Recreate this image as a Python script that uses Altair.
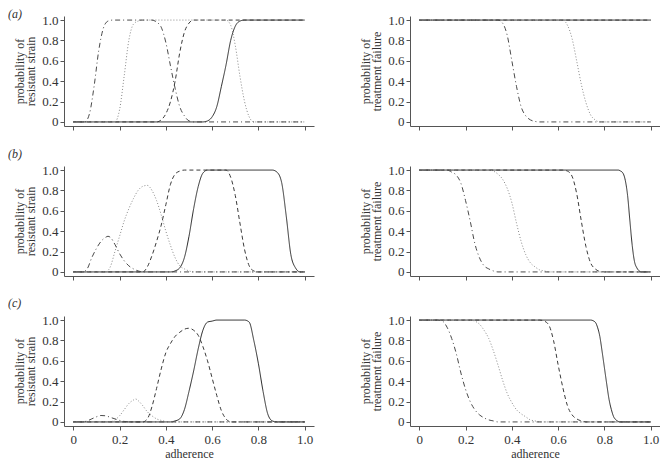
import altair as alt
import pandas as pd

SERIES = ["solid", "dashed", "dotted", "dotdash"]
DASHES = [[1, 0], [4, 3], [1, 2], [1, 3, 5, 3]]
COLORS = ["#2b2b2b", "#3a3a3a", "#8a8a8a", "#4a4a4a"]
TICKS = [0, 0.2, 0.4, 0.6, 0.8, 1.0]
PANEL_LABELS = ["(a)", "(b)", "(c)"]
Y_TITLE_LEFT = ["probability of", "resistant strain"]
Y_TITLE_RIGHT = ["probability of", "treatment failure"]
X_TITLE = "adherence"
FONT = "Liberation Serif"

# ---------- (a) resistant strain ----------
a_res_solid_x = [0, 0.56, 0.58, 0.60, 0.62, 0.64, 0.66, 0.68, 0.70, 0.72, 0.74, 1.0]
a_res_solid_y = [0, 0, 0.01, 0.05, 0.15, 0.35, 0.56, 0.8, 0.94, 0.99, 1.0, 1.0]
a_res_dashed_x = [0, 0.36, 0.38, 0.40, 0.42, 0.44, 0.46, 0.48, 0.50, 0.52, 1.0]
a_res_dashed_y = [0, 0, 0.02, 0.08, 0.2, 0.4, 0.68, 0.88, 0.97, 1.0, 1.0]
a_res_dotted_x = [0, 0.18, 0.20, 0.22, 0.24, 0.26, 0.28, 0.30, 0.66, 0.68, 0.70, 0.72, 0.74, 0.76, 0.78, 1.0]
a_res_dotted_y = [0, 0, 0.12, 0.45, 0.8, 0.96, 0.99, 1.0, 1.0, 0.95, 0.75, 0.45, 0.2, 0.05, 0, 0]
a_res_dotdash_x = [0, 0.05, 0.07, 0.09, 0.11, 0.13, 0.15, 0.17, 0.34, 0.36, 0.38, 0.40, 0.42, 0.44, 0.46, 0.48, 0.50, 0.52, 1.0]
a_res_dotdash_y = [0, 0, 0.08, 0.35, 0.7, 0.92, 0.99, 1.0, 1.0, 0.98, 0.93, 0.78, 0.55, 0.33, 0.15, 0.06, 0.01, 0, 0]

# ---------- (a) treatment failure ----------
a_fail_solid_x = [0, 1.0]
a_fail_solid_y = [1.0, 1.0]
a_fail_dashed_x = [0, 1.0]
a_fail_dashed_y = [1.0, 1.0]
a_fail_dotted_x = [0, 0.62, 0.64, 0.66, 0.68, 0.70, 0.72, 0.74, 0.76, 0.78, 1.0]
a_fail_dotted_y = [1.0, 1.0, 0.95, 0.82, 0.6, 0.37, 0.19, 0.07, 0.02, 0, 0]
a_fail_dotdash_x = [0, 0.34, 0.36, 0.38, 0.40, 0.42, 0.44, 0.46, 0.48, 0.50, 0.52, 1.0]
a_fail_dotdash_y = [1.0, 1.0, 0.97, 0.85, 0.6, 0.35, 0.15, 0.06, 0.02, 0.005, 0, 0]

# ---------- (b) resistant strain ----------
b_res_solid_x = [0, 0.42, 0.44, 0.46, 0.48, 0.50, 0.52, 0.54, 0.56, 0.58, 0.86, 0.88, 0.90, 0.92, 0.94, 0.96, 0.98, 1.0]
b_res_solid_y = [0, 0, 0.01, 0.04, 0.14, 0.35, 0.62, 0.84, 0.97, 1.0, 1.0, 0.98, 0.88, 0.55, 0.17, 0.04, 0, 0]
b_res_dashed_x = [0, 0.30, 0.32, 0.34, 0.36, 0.38, 0.40, 0.42, 0.44, 0.46, 0.48, 0.66, 0.68, 0.70, 0.72, 0.74, 0.76, 0.78, 0.80, 1.0]
b_res_dashed_y = [0, 0, 0.05, 0.16, 0.3, 0.46, 0.66, 0.86, 0.96, 0.99, 1.0, 1.0, 0.93, 0.75, 0.48, 0.22, 0.06, 0.01, 0, 0]
b_res_dotted_x = [0, 0.14, 0.16, 0.18, 0.20, 0.22, 0.24, 0.26, 0.28, 0.30, 0.32, 0.34, 0.36, 0.38, 0.40, 0.42, 0.44, 0.46, 0.48, 0.50, 0.52, 1.0]
b_res_dotted_y = [0, 0, 0.05, 0.2, 0.35, 0.5, 0.62, 0.72, 0.8, 0.84, 0.85, 0.8, 0.7, 0.56, 0.4, 0.26, 0.14, 0.06, 0.03, 0.01, 0, 0]
b_res_dotdash_x = [0, 0.04, 0.06, 0.08, 0.10, 0.12, 0.14, 0.15, 0.16, 0.18, 0.20, 0.22, 0.24, 0.26, 0.28, 0.30, 1.0]
b_res_dotdash_y = [0, 0, 0.03, 0.14, 0.23, 0.3, 0.34, 0.35, 0.34, 0.27, 0.18, 0.11, 0.06, 0.03, 0.01, 0, 0]

# ---------- (b) treatment failure ----------
b_fail_solid_x = [0, 0.86, 0.87, 0.88, 0.89, 0.90, 0.91, 0.92, 0.93, 0.94, 0.95, 0.96, 1.0]
b_fail_solid_y = [1.0, 1.0, 0.99, 0.97, 0.9, 0.75, 0.5, 0.26, 0.1, 0.04, 0.01, 0, 0]
b_fail_dashed_x = [0, 0.62, 0.64, 0.66, 0.68, 0.70, 0.72, 0.74, 0.76, 0.78, 0.80, 1.0]
b_fail_dashed_y = [1.0, 1.0, 0.99, 0.94, 0.77, 0.5, 0.25, 0.09, 0.03, 0.005, 0, 0]
b_fail_dotted_x = [0, 0.30, 0.32, 0.34, 0.36, 0.38, 0.40, 0.42, 0.44, 0.46, 0.48, 0.50, 0.52, 0.54, 0.56, 1.0]
b_fail_dotted_y = [1.0, 1.0, 0.99, 0.96, 0.91, 0.82, 0.68, 0.48, 0.3, 0.17, 0.09, 0.05, 0.02, 0.01, 0, 0]
b_fail_dotdash_x = [0, 0.12, 0.14, 0.16, 0.18, 0.20, 0.22, 0.24, 0.26, 0.28, 0.30, 0.32, 0.34, 1.0]
b_fail_dotdash_y = [1.0, 1.0, 0.98, 0.95, 0.87, 0.7, 0.5, 0.28, 0.14, 0.06, 0.03, 0.01, 0, 0]

# ---------- (c) resistant strain ----------
c_res_solid_x = [0, 0.42, 0.44, 0.46, 0.48, 0.50, 0.52, 0.54, 0.56, 0.58, 0.60, 0.62, 0.74, 0.76, 0.78, 0.80, 0.82, 0.84, 0.86, 0.88, 1.0]
c_res_solid_y = [0, 0, 0.01, 0.03, 0.12, 0.3, 0.5, 0.72, 0.9, 0.98, 0.99, 1.0, 1.0, 0.98, 0.8, 0.57, 0.3, 0.08, 0.01, 0, 0]
c_res_dashed_x = [0, 0.30, 0.32, 0.34, 0.36, 0.38, 0.40, 0.42, 0.44, 0.46, 0.48, 0.50, 0.52, 0.54, 0.56, 0.58, 0.60, 0.62, 0.64, 0.66, 0.68, 1.0]
c_res_dashed_y = [0, 0, 0.03, 0.15, 0.33, 0.52, 0.68, 0.77, 0.84, 0.88, 0.91, 0.92, 0.9, 0.85, 0.74, 0.6, 0.43, 0.26, 0.11, 0.03, 0, 0]
c_res_dotted_x = [0, 0.16, 0.18, 0.20, 0.22, 0.24, 0.26, 0.27, 0.28, 0.30, 0.32, 0.34, 0.36, 0.38, 0.40, 0.42, 1.0]
c_res_dotted_y = [0, 0, 0.02, 0.06, 0.12, 0.18, 0.215, 0.225, 0.21, 0.16, 0.1, 0.06, 0.03, 0.015, 0.005, 0, 0]
c_res_dotdash_x = [0, 0.04, 0.06, 0.08, 0.10, 0.12, 0.14, 0.16, 0.18, 0.20, 0.22, 0.24, 1.0]
c_res_dotdash_y = [0, 0, 0.01, 0.03, 0.05, 0.063, 0.06, 0.045, 0.03, 0.015, 0.005, 0, 0]

# ---------- (c) treatment failure ----------
c_fail_solid_x = [0, 0.74, 0.76, 0.77, 0.78, 0.79, 0.80, 0.81, 0.82, 0.83, 0.84, 0.85, 0.86, 0.87, 1.0]
c_fail_solid_y = [1.0, 1.0, 0.98, 0.93, 0.84, 0.69, 0.53, 0.37, 0.22, 0.12, 0.05, 0.02, 0.005, 0, 0]
c_fail_dashed_x = [0, 0.52, 0.54, 0.56, 0.58, 0.60, 0.62, 0.64, 0.66, 0.68, 0.70, 0.72, 1.0]
c_fail_dashed_y = [1.0, 1.0, 0.99, 0.95, 0.8, 0.56, 0.34, 0.16, 0.07, 0.03, 0.01, 0, 0]
c_fail_dotted_x = [0, 0.22, 0.24, 0.26, 0.28, 0.30, 0.32, 0.34, 0.36, 0.38, 0.40, 0.42, 0.44, 0.46, 0.48, 0.50, 0.52, 1.0]
c_fail_dotted_y = [1.0, 1.0, 0.99, 0.96, 0.9, 0.82, 0.7, 0.56, 0.41, 0.28, 0.19, 0.12, 0.08, 0.05, 0.02, 0.01, 0, 0]
c_fail_dotdash_x = [0, 0.08, 0.10, 0.12, 0.14, 0.16, 0.18, 0.20, 0.22, 0.24, 0.26, 0.28, 0.30, 0.32, 0.34, 1.0]
c_fail_dotdash_y = [1.0, 1.0, 0.99, 0.93, 0.82, 0.67, 0.48, 0.32, 0.2, 0.12, 0.07, 0.04, 0.02, 0.01, 0, 0]


def frame(curves):
    rows = []
    for name, xs, ys in curves:
        for x, y in zip(xs, ys):
            rows.append({"series": name, "x": x, "y": y})
    return pd.DataFrame(rows)


LABEL_EXPR = "datum.value == 0 ? '0' : format(datum.value, '.1f')"


def panel(df, ytitle, label, label_y, bottom):
    x_axis = alt.Axis(
        values=TICKS, labelExpr=LABEL_EXPR, grid=False, tickSize=4,
        labels=bottom, title=X_TITLE if bottom else None,
        labelPadding=3, titlePadding=2,
    )
    y_axis = alt.Axis(
        values=TICKS, labelExpr=LABEL_EXPR, grid=False, tickSize=4,
        title=ytitle, labelPadding=2, titlePadding=4, titleLineHeight=11,
    )
    lines = alt.Chart(df).mark_line(strokeWidth=1, interpolate="monotone", clip=True).encode(
        x=alt.X("x:Q", scale=alt.Scale(domain=[-0.04, 1.04], nice=False, zero=False), axis=x_axis),
        y=alt.Y("y:Q", scale=alt.Scale(domain=[-0.04, 1.04], nice=False, zero=False), axis=y_axis),
        strokeDash=alt.StrokeDash("series:N", scale=alt.Scale(domain=SERIES, range=DASHES), legend=None),
        color=alt.Color("series:N", scale=alt.Scale(domain=SERIES, range=COLORS), legend=None),
        detail="series:N",
    )
    layers = [lines]
    if label:
        txt = alt.Chart(pd.DataFrame({"t": [label]})).mark_text(
            font=FONT, fontSize=12, fontStyle="italic", align="left", baseline="middle", color="#333333"
        ).encode(x=alt.value(-56), y=alt.value(label_y), text="t:N")
        layers.append(txt)
    return alt.layer(*layers).properties(width=250, height=110)


panels = []
specs = [
    ("(a)", -2,
     [("solid", a_res_solid_x, a_res_solid_y), ("dashed", a_res_dashed_x, a_res_dashed_y),
      ("dotted", a_res_dotted_x, a_res_dotted_y), ("dotdash", a_res_dotdash_x, a_res_dotdash_y)],
     [("solid", a_fail_solid_x, a_fail_solid_y), ("dashed", a_fail_dashed_x, a_fail_dashed_y),
      ("dotted", a_fail_dotted_x, a_fail_dotted_y), ("dotdash", a_fail_dotdash_x, a_fail_dotdash_y)]),
    ("(b)", -12,
     [("solid", b_res_solid_x, b_res_solid_y), ("dashed", b_res_dashed_x, b_res_dashed_y),
      ("dotted", b_res_dotted_x, b_res_dotted_y), ("dotdash", b_res_dotdash_x, b_res_dotdash_y)],
     [("solid", b_fail_solid_x, b_fail_solid_y), ("dashed", b_fail_dashed_x, b_fail_dashed_y),
      ("dotted", b_fail_dotted_x, b_fail_dotted_y), ("dotdash", b_fail_dotdash_x, b_fail_dotdash_y)]),
    ("(c)", -13,
     [("solid", c_res_solid_x, c_res_solid_y), ("dashed", c_res_dashed_x, c_res_dashed_y),
      ("dotted", c_res_dotted_x, c_res_dotted_y), ("dotdash", c_res_dotdash_x, c_res_dotdash_y)],
     [("solid", c_fail_solid_x, c_fail_solid_y), ("dashed", c_fail_dashed_x, c_fail_dashed_y),
      ("dotted", c_fail_dotted_x, c_fail_dotted_y), ("dotdash", c_fail_dotdash_x, c_fail_dotdash_y)]),
]

for i, (lab, ly, res, fail) in enumerate(specs):
    bottom = i == len(specs) - 1
    panels.append(panel(frame(res), Y_TITLE_LEFT, lab, ly, bottom))
    panels.append(panel(frame(fail), Y_TITLE_RIGHT, None, 0, bottom))

chart = alt.concat(
    *panels, columns=2, spacing={"row": 40, "column": 96}, bounds="flush"
).properties(padding=0).configure_view(stroke=None).configure_axis(
    domainColor="#555555", tickColor="#555555", domainWidth=1, tickWidth=1,
    labelFont=FONT, titleFont=FONT, labelFontSize=13, titleFontSize=12,
    labelColor="#333333", titleColor="#333333", titleFontWeight="normal",
)

chart.save("out.html", embed_options={"renderer": "svg", "actions": False})
